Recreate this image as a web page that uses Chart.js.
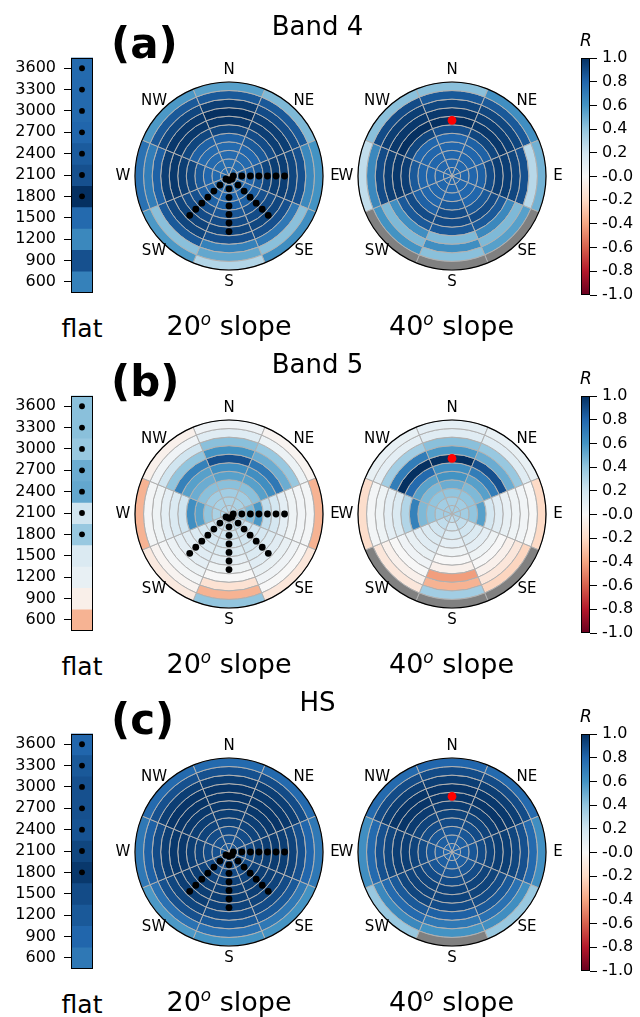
<!DOCTYPE html>
<html>
<head>
<meta charset="utf-8">
<script src="https://cdn.jsdelivr.net/npm/chart.js@4.4.1/dist/chart.umd.min.js"></script>
<style>
  body { margin: 0; background: #fff; }
  #fig { position: relative; width: 640px; height: 1017px; overflow: hidden; background: #fff;
         font-family: "DejaVu Sans", sans-serif; color: #000; }
  #fig canvas { position: absolute; }
  .txt { position: absolute; line-height: 1; white-space: nowrap; }
  .sup { font-style: italic; font-size: 0.62em; position: relative; top: -0.62em; }
</style>
</head>
<body>
<div id="fig"></div>
<script>
'use strict';

// elevation bands (m), outer ring of the polar plots = lowest
const elevations = [600, 900, 1200, 1500, 1800, 2100, 2400, 2700, 3000, 3300, 3600];
const directions = ['N', 'NE', 'E', 'SE', 'S', 'SW', 'W', 'NW'];
const panelLetters = ['(a)', '(b)', '(c)'];
const panelTitles = ['Band 4', 'Band 5', 'HS'];
const slopes = [20, 40];
const cbarMin = -1, cbarMax = 1, cbarStep = 0.2;

// stations drawn on the flat strip and the 20° plot
const dotElevations = [1800, 2100, 2400, 2700, 3000, 3300, 3600];
const dotDirections = ['E', 'SE', 'S', 'SW'];
// marker on the 40° plot
const redDotDirection = 'N';
const redDotElevation = 1800;

// R per elevation (600 -> 3600); null = no data
const band4Flat = [0.68, 0.88, 0.65, 0.78, 1.00, 0.88, 0.84, 0.80, 0.78, 0.78, 0.78];
const band5Flat = [-0.35, -0.06, 0.08, 0.15, 0.38, 0.20, 0.52, 0.50, 0.38, 0.42, 0.42];
const hsFlat    = [0.72, 0.80, 0.85, 0.90, 0.97, 0.92, 0.87, 0.88, 0.88, 0.85, 0.80];

// R per elevation row (600 -> 3600), columns N, NE, E, SE, S, SW, W, NW
const band4Slope20 = [
  [0.55, 0.45, 0.60, 0.62, 0.30, 0.58, 0.75, 0.58],
  [0.85, 0.85, 0.65, 0.42, 0.52, 0.42, 0.70, 0.85],
  [0.95, 0.90, 0.88, 0.72, 0.68, 0.85, 0.82, 0.92],
  [1.00, 0.95, 0.92, 0.88, 0.88, 0.92, 0.95, 0.97],
  [0.97, 0.95, 0.95, 0.92, 0.92, 0.93, 0.97, 0.97],
  [0.92, 0.90, 0.95, 0.90, 0.90, 0.90, 0.95, 0.92],
  [0.82, 0.85, 0.92, 0.88, 0.86, 0.88, 0.92, 0.82],
  [0.78, 0.80, 0.85, 0.82, 0.82, 0.82, 0.85, 0.78],
  [0.78, 0.78, 0.80, 0.80, 0.80, 0.80, 0.80, 0.78],
  [0.77, 0.77, 0.78, 0.78, 0.78, 0.78, 0.78, 0.77],
  [0.77, 0.77, 0.77, 0.77, 0.77, 0.77, 0.77, 0.77]
];
const band4Slope40 = [
  [0.42, 0.62, 0.48, null, null, null, 0.25, 0.42],
  [0.85, 0.85, 0.28, 0.55, 0.42, 0.60, 0.65, 0.90],
  [0.92, 0.92, 0.88, 0.45, 0.62, 0.45, 0.90, 0.95],
  [0.97, 0.95, 0.92, 0.65, 0.45, 0.62, 0.95, 0.97],
  [1.00, 0.97, 0.95, 0.85, 0.85, 0.85, 0.97, 1.00],
  [0.88, 0.92, 0.95, 0.90, 0.90, 0.90, 0.95, 0.92],
  [0.80, 0.82, 0.90, 0.85, 0.90, 0.82, 0.85, 0.80],
  [0.80, 0.80, 0.82, 0.80, 0.85, 0.80, 0.80, 0.80],
  [0.80, 0.80, 0.80, 0.80, 0.80, 0.80, 0.80, 0.80],
  [0.80, 0.80, 0.80, 0.80, 0.80, 0.80, 0.80, 0.80],
  [0.80, 0.80, 0.80, 0.80, 0.80, 0.80, 0.80, 0.80]
];
const band5Slope20 = [
  [0.04, -0.03, -0.35, -0.12, 0.40, -0.10, -0.35, -0.05],
  [0.12, 0.06, 0.02, 0.00, -0.35, -0.03, 0.02, 0.04],
  [0.42, 0.38, 0.03, 0.04, -0.15, 0.02, 0.05, 0.20],
  [0.60, 0.50, 0.05, 0.08, 0.00, 0.06, 0.10, 0.40],
  [0.88, 0.72, 0.10, 0.12, 0.05, 0.10, 0.15, 0.68],
  [0.62, 0.62, 0.18, 0.15, 0.10, 0.12, 0.20, 0.55],
  [0.55, 0.55, 0.25, 0.18, 0.15, 0.15, 0.62, 0.50],
  [0.42, 0.42, 0.58, 0.20, 0.18, 0.18, 0.55, 0.42],
  [0.35, 0.35, 0.45, 0.22, 0.20, 0.20, 0.40, 0.35],
  [0.32, 0.32, 0.35, 0.25, 0.22, 0.22, 0.32, 0.32],
  [0.30, 0.30, 0.30, 0.28, 0.25, 0.25, 0.30, 0.30]
];
const band5Slope40 = [
  [0.10, 0.08, -0.20, null, null, null, -0.18, 0.08],
  [0.12, 0.12, 0.00, -0.22, 0.35, -0.12, 0.02, 0.10],
  [0.42, 0.38, 0.03, -0.12, -0.35, -0.05, 0.05, 0.35],
  [0.58, 0.50, 0.05, -0.05, -0.42, 0.00, 0.10, 0.70],
  [1.00, 0.88, 0.08, 0.00, -0.05, 0.04, 0.15, 1.00],
  [0.62, 0.70, 0.12, 0.05, 0.00, 0.08, 0.30, 0.78],
  [0.60, 0.55, 0.18, 0.10, 0.05, 0.12, 0.68, 0.55],
  [0.50, 0.45, 0.55, 0.15, 0.10, 0.15, 0.45, 0.45],
  [0.40, 0.40, 0.40, 0.20, 0.15, 0.20, 0.40, 0.40],
  [0.35, 0.35, 0.35, 0.25, 0.20, 0.25, 0.35, 0.35],
  [0.35, 0.35, 0.35, 0.30, 0.25, 0.30, 0.35, 0.35]
];
const hsSlope20 = [
  [0.78, 0.78, 0.72, 0.60, 0.60, 0.58, 0.72, 0.78],
  [0.88, 0.90, 0.80, 0.72, 0.75, 0.75, 0.82, 0.88],
  [0.95, 0.95, 0.88, 0.85, 0.85, 0.88, 0.90, 0.95],
  [0.98, 0.97, 0.93, 0.90, 0.90, 0.92, 0.95, 0.98],
  [0.98, 0.98, 0.95, 0.93, 0.93, 0.95, 0.97, 0.98],
  [0.97, 0.97, 0.96, 0.95, 0.95, 0.95, 0.97, 0.97],
  [0.95, 0.95, 0.95, 0.95, 0.95, 0.95, 0.95, 0.95],
  [0.93, 0.93, 0.93, 0.93, 0.93, 0.93, 0.93, 0.93],
  [0.90, 0.90, 0.90, 0.90, 0.90, 0.90, 0.90, 0.90],
  [0.88, 0.88, 0.88, 0.88, 0.88, 0.88, 0.88, 0.88],
  [0.85, 0.85, 0.85, 0.85, 0.85, 0.85, 0.85, 0.85]
];
const hsSlope40 = [
  [0.80, 0.78, 0.62, 0.38, null, 0.38, 0.62, 0.78],
  [0.90, 0.90, 0.78, 0.62, 0.60, 0.65, 0.78, 0.90],
  [0.95, 0.95, 0.88, 0.75, 0.72, 0.78, 0.88, 0.95],
  [0.98, 0.97, 0.92, 0.85, 0.82, 0.85, 0.92, 0.98],
  [0.98, 0.98, 0.95, 0.90, 0.90, 0.92, 0.95, 0.98],
  [0.96, 0.96, 0.95, 0.93, 0.93, 0.93, 0.95, 0.96],
  [0.93, 0.93, 0.93, 0.93, 0.93, 0.93, 0.93, 0.93],
  [0.90, 0.90, 0.90, 0.90, 0.90, 0.90, 0.90, 0.90],
  [0.86, 0.86, 0.86, 0.86, 0.86, 0.86, 0.86, 0.86],
  [0.83, 0.83, 0.83, 0.83, 0.83, 0.83, 0.83, 0.83],
  [0.80, 0.80, 0.80, 0.80, 0.80, 0.80, 0.80, 0.80]
];

const flatRows = [band4Flat, band5Flat, hsFlat];
const polarRows = [[band4Slope20, band4Slope40], [band5Slope20, band5Slope40], [hsSlope20, hsSlope40]];

// matplotlib RdBu
const RDBU = ['#67001f', '#b2182b', '#d6604d', '#f4a582', '#fddbc7', '#f7f7f7',
              '#d1e5f0', '#92c5de', '#4393c3', '#2166ac', '#053061'];
const NAN_COLOR = '#808080';
const GRID = '#b0b0b0';

function hexRgb(h) {
    return [1, 3, 5].map(i => parseInt(h.slice(i, i + 2), 16));
}
function rdbu(v) {
    if (v === null || v === undefined) return NAN_COLOR;
    const t = Math.min(Math.max((v - cbarMin) / (cbarMax - cbarMin), 0), 1) * (RDBU.length - 1);
    const i = Math.min(Math.floor(t), RDBU.length - 2), f = t - i;
    const a = hexRgb(RDBU[i]), b = hexRgb(RDBU[i + 1]);
    return 'rgb(' + a.map((c, k) => Math.round(c + (b[k] - c) * f)).join(',') + ')';
}

Chart.defaults.font.family = '"DejaVu Sans", sans-serif';
Chart.defaults.color = '#000';

const fig = document.getElementById('fig');

function addCanvas(x, y, w, h) {
    const c = document.createElement('canvas');
    c.width = w; c.height = h;
    c.style.left = x + 'px'; c.style.top = y + 'px';
    c.style.width = w + 'px'; c.style.height = h + 'px';
    fig.appendChild(c);
    return c;
}

// text placed by its baseline (DejaVu: baseline sits 0.846em below a line-height:1 box top)
function addText(html, x, baseline, size, opts) {
    opts = opts || {};
    const d = document.createElement('div');
    d.className = 'txt';
    d.innerHTML = html;
    d.style.fontSize = size + 'px';
    d.style.top = (baseline - 0.846 * size) + 'px';
    d.style.left = x + 'px';
    if (opts.bold) d.style.fontWeight = 'bold';
    if (opts.italic) d.style.fontStyle = 'italic';
    if (opts.center) d.style.transform = 'translateX(-50%)';
    fig.appendChild(d);
}

const framePlugin = {
    id: 'frame',
    afterDatasetsDraw(chart) {
        const a = chart.chartArea, ctx = chart.ctx;
        ctx.save();
        ctx.strokeStyle = '#000';
        ctx.lineWidth = 1;
        ctx.strokeRect(Math.round(a.left) + 0.5, Math.round(a.top) + 0.5,
                       Math.round(a.width) - 1, Math.round(a.height) - 1);
        ctx.restore();
    }
};

// black rim + compass labels around the doughnut
const compassPlugin = {
    id: 'compass',
    afterDatasetsDraw(chart) {
        const arc = chart.getDatasetMeta(0).data[0];
        if (!arc) return;
        const { x, y, outerRadius } = arc;
        const ctx = chart.ctx;
        ctx.save();
        ctx.beginPath();
        ctx.arc(x, y, outerRadius, 0, Math.PI * 2);
        ctx.strokeStyle = '#000';
        ctx.lineWidth = 1.2;
        ctx.stroke();
        ctx.font = '15px "DejaVu Sans"';
        ctx.fillStyle = '#000';
        ctx.textAlign = 'center';
        ctx.textBaseline = 'middle';
        directions.forEach((d, i) => {
            const a = i * Math.PI * 2 / directions.length;
            const r = outerRadius + 12;
            ctx.fillText(d, x + r * Math.sin(a), y - r * Math.cos(a));
        });
        ctx.restore();
    }
};

const POLAR_R = 94;
const POLAR_BOX = 250;

function polarPoint(dir, elev) {
    const ring = elevations.length - 1 - elevations.indexOf(elev);
    const r = ring + 0.5;
    const az = directions.indexOf(dir) * Math.PI * 2 / directions.length;
    return { x: r * Math.sin(az), y: r * Math.cos(az) };
}

function drawPolar(cx, cy, grid, points, pointColor, pointRadius) {
    const half = POLAR_BOX / 2;
    const c = addCanvas(cx - half, cy - half, POLAR_BOX, POLAR_BOX);
    new Chart(c, {
        type: 'doughnut',
        data: {
            labels: directions,
            datasets: grid.map(row => ({
                data: directions.map(() => 1),
                backgroundColor: row.map(rdbu),
                borderColor: GRID,
                borderWidth: 1,
                hoverBorderWidth: 1,
                hoverOffset: 0,
                offset: 0
            }))
        },
        options: {
            responsive: false,
            animation: false,
            events: [],
            cutout: '0%',
            rotation: -180 / directions.length,
            layout: { padding: half - POLAR_R - 0.5 },
            plugins: { legend: { display: false }, tooltip: { enabled: false } }
        },
        plugins: [compassPlugin]
    });

    // markers on top, through a linear x/y frame in ring units
    const o = addCanvas(cx - half, cy - half, POLAR_BOX, POLAR_BOX);
    const n = elevations.length;
    new Chart(o, {
        type: 'scatter',
        data: {
            datasets: [{
                data: points,
                backgroundColor: pointColor,
                borderWidth: 0,
                pointRadius: pointRadius,
                clip: false
            }]
        },
        options: {
            responsive: false,
            animation: false,
            events: [],
            layout: { padding: half - POLAR_R },
            scales: {
                x: { display: false, min: -n, max: n },
                y: { display: false, min: -n, max: n }
            },
            plugins: { legend: { display: false }, tooltip: { enabled: false } }
        }
    });
}

function drawFlat(dy, values) {
    const c = addCanvas(0, dy + 40, 100, 270);
    new Chart(c, {
        type: 'bar',
        data: {
            labels: elevations.map(String),
            datasets: [
                {
                    type: 'scatter',
                    data: dotElevations.map(e => ({ x: 0.5, y: String(e) })),
                    backgroundColor: '#000',
                    borderWidth: 0,
                    pointRadius: 2.9
                },
                {
                    type: 'bar',
                    data: elevations.map(() => 1),
                    backgroundColor: values.map(rdbu),
                    borderWidth: 0,
                    barPercentage: 1,
                    categoryPercentage: 1
                }
            ]
        },
        options: {
            indexAxis: 'y',
            responsive: false,
            animation: false,
            events: [],
            layout: { padding: { top: 17, bottom: 15, right: 7, left: 0 } },
            scales: {
                x: { type: 'linear', display: false, min: 0, max: 1 },
                y: {
                    type: 'category',
                    reverse: true,
                    position: 'left',
                    grid: { drawOnChartArea: false, offset: false, tickLength: 7, tickColor: '#000', tickWidth: 1 },
                    border: { display: false },
                    ticks: { autoSkip: false, padding: 8, color: '#000', font: { size: 16 } },
                    afterFit: s => { s.width = 71; }
                }
            },
            plugins: { legend: { display: false }, tooltip: { enabled: false } }
        },
        plugins: [framePlugin]
    });
}

function drawColorbar(dy) {
    const c = addCanvas(560, dy + 40, 80, 270);
    new Chart(c, {
        type: 'bar',
        data: {
            labels: ['R'],
            datasets: [{
                data: [[cbarMin, cbarMax]],
                backgroundColor: ctx => {
                    const a = ctx.chart.chartArea;
                    if (!a) return RDBU[5];
                    const g = ctx.chart.ctx.createLinearGradient(0, a.bottom, 0, a.top);
                    RDBU.forEach((col, i) => g.addColorStop(i / (RDBU.length - 1), col));
                    return g;
                },
                borderWidth: 0,
                barPercentage: 1,
                categoryPercentage: 1
            }]
        },
        options: {
            responsive: false,
            animation: false,
            events: [],
            layout: { padding: { left: 21, top: 18, bottom: 15, right: 0 } },
            scales: {
                x: { display: false },
                y: {
                    position: 'right',
                    min: cbarMin,
                    max: cbarMax,
                    grid: { drawOnChartArea: false, tickLength: 7, tickColor: '#000', tickWidth: 1 },
                    border: { display: false },
                    ticks: {
                        stepSize: cbarStep,
                        autoSkip: false,
                        maxTicksLimit: 20,
                        padding: 5,
                        color: '#000',
                        font: { size: 16 },
                        // matplotlib prints the zero tick as -0.0 here
                        callback: v => Math.abs(v) < 1e-9 ? '-0.0' : Number(v).toFixed(1)
                    },
                    afterFit: s => { s.width = 50; }
                }
            },
            plugins: { legend: { display: false }, tooltip: { enabled: false } }
        },
        plugins: [framePlugin]
    });
}

const rowOffsets = [0, 338, 676];
const polarCenters = [229, 451.5];
const polarCy = 176;

const stationDots = [];
dotDirections.forEach(d => dotElevations.forEach(e => stationDots.push(polarPoint(d, e))));
const markerDot = [polarPoint(redDotDirection, redDotElevation)];

rowOffsets.forEach((dy, r) => {
    drawFlat(dy, flatRows[r]);
    drawPolar(polarCenters[0], polarCy + dy, polarRows[r][0], stationDots, '#000', 3.4);
    drawPolar(polarCenters[1], polarCy + dy, polarRows[r][1], markerDot, '#ff0000', 4.4);
    drawColorbar(dy);

    addText(panelLetters[r], 111, 59 + dy, 42, { bold: true });
    addText(panelTitles[r], 317.5, 35 + dy, 26, { center: true });
    addText('flat', 82, 337 + dy, 25, { center: true });
    slopes.forEach((s, i) => {
        addText(s + '<span class="sup">o</span> slope', polarCenters[i], 335 + dy, 27, { center: true });
    });
    addText('R', 580, 46 + dy, 17, { italic: true });
});
</script>
</body>
</html>
